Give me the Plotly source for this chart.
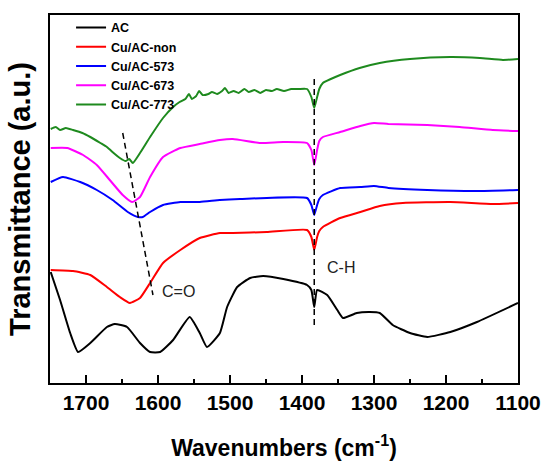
import plotly.graph_objects as go

# ---------------- data ----------------
ac_x = [1749, 1736, 1722, 1711, 1694, 1671, 1660, 1643, 1625, 1611, 1597, 1579, 1556,
        1542, 1532, 1514, 1504, 1490, 1472, 1454, 1426, 1393, 1387, 1383, 1379, 1365,
        1351, 1343, 1324, 1306, 1292, 1274, 1250, 1226, 1194, 1157, 1100]
ac_y = [111, 83, 50, 31, 40, 56, 59, 56, 40, 31, 31, 43, 66,
        50, 36, 50, 76, 96, 105, 107, 104, 98, 93, 76, 93, 88,
        73, 65, 70, 71, 70, 58, 50, 46, 51, 61, 80]

non_x = [1749, 1718, 1694, 1671, 1653, 1639, 1625, 1611, 1593, 1569, 1542, 1514, 1496,
         1449, 1393, 1387, 1383, 1379, 1376, 1371, 1347, 1319, 1292, 1260, 1194, 1135, 1100]
non_y = [113, 112, 108, 96, 86, 80, 85, 100, 120, 133, 145, 150, 150,
         151, 153, 146, 133, 146, 152, 156, 165, 171, 177, 180, 181, 179, 180]

c573_x = [1749, 1732, 1708, 1685, 1663, 1642, 1628, 1621, 1611, 1593, 1569, 1542, 1514,
          1486, 1393, 1387, 1383, 1379, 1376, 1371, 1347, 1319, 1300, 1280, 1226, 1157, 1100]
c573_y = [201, 206, 201, 193, 183, 171, 166, 166, 171, 178, 181, 181, 183,
          184, 185, 178, 168, 178, 184, 188, 195, 196, 197, 195, 193, 192, 193]

c673_x = [1749, 1726, 1704, 1685, 1667, 1649, 1636, 1625, 1611, 1593, 1569, 1542, 1514,
          1496, 1458, 1426, 1393, 1387, 1383, 1379, 1376, 1371, 1347, 1319, 1300, 1280,
          1226, 1181, 1135, 1100]
c673_y = [235, 235, 228, 218, 203, 188, 181, 186, 206, 226, 235, 239, 243,
          244, 240, 241, 240, 233, 218, 233, 242, 246, 251, 257, 260, 259,
          258, 256, 253, 252]

c773_x = [1749, 1742, 1736, 1728, 1718, 1705, 1694, 1680, 1671, 1660, 1653, 1645, 1640,
          1635, 1625, 1611, 1593, 1579, 1570, 1562, 1557, 1553, 1547, 1543, 1538, 1530,
          1525, 1518, 1511, 1507, 1502, 1495, 1488, 1480, 1474, 1466, 1458, 1450, 1442,
          1435, 1425, 1415, 1405, 1393, 1387, 1383, 1379, 1376, 1371, 1360, 1347, 1320,
          1292, 1250, 1194, 1153, 1121, 1100]
c773_y = [254, 256, 253, 255, 253, 250, 246, 240, 236, 229, 225, 222, 224,
          220, 230, 246, 265, 276, 281, 284, 289, 284, 287, 292, 288, 289,
          291, 289, 292, 295, 290, 292, 290, 294, 291, 293, 290, 293, 292,
          294, 292, 294, 294, 294, 286, 275, 286, 294, 300, 304, 308, 315,
          320, 324, 326, 325, 323, 324]

series_names = ["AC", "Cu/AC-non", "Cu/AC-573", "Cu/AC-673", "Cu/AC-773"]
series_x = [ac_x, non_x, c573_x, c673_x, c773_x]
series_y = [ac_y, non_y, c573_y, c673_y, c773_y]
series_colors = ["#000000", "#FF0000", "#0000FF", "#FF00FF", "#1E8A1E"]

# guide lines and labels
co_line_x = [1649, 1607]
co_line_y = [250, 88]
ch_line_x = [1383, 1383]
ch_line_y = [304, 55]
peak_labels = ["C=O", "C-H"]
peak_label_x = [1572, 1346]
peak_label_y = [92, 116]

x_ticks = [1700, 1600, 1500, 1400, 1300, 1200, 1100]

# ---------------- figure ----------------
FONT = "Liberation Sans, Arial, sans-serif"
fig = go.Figure()

for name, xs, ys, col in zip(series_names, series_x, series_y, series_colors):
    fig.add_trace(go.Scatter(x=xs, y=ys, mode="lines", name=name,
                             line=dict(color=col, width=2, shape="spline", smoothing=0.45)))

for lx, ly in [(co_line_x, co_line_y), (ch_line_x, ch_line_y)]:
    fig.add_trace(go.Scatter(x=lx, y=ly, mode="lines", showlegend=False, hoverinfo="skip",
                             line=dict(color="black", width=1.5, dash="6px,4px")))

for t, ax_, ay_ in zip(peak_labels, peak_label_x, peak_label_y):
    fig.add_annotation(x=ax_, y=ay_, text=t, showarrow=False,
                       font=dict(family=FONT, size=16, color="#222222"))

fig.update_layout(
    width=545, height=461,
    margin=dict(l=50, r=27, t=15, b=78),
    paper_bgcolor="white", plot_bgcolor="white",
    showlegend=True,
    legend=dict(x=0.045, y=1.006, xanchor="left", yanchor="top",
                bgcolor="rgba(0,0,0,0)",
                font=dict(family=FONT, size=12.5, color="black", weight="bold"),
                tracegroupgap=0, itemwidth=30),
    xaxis=dict(range=[1750, 1100], autorange=False, automargin=False,
               tickvals=x_ticks, ticks="inside", ticklen=8, tickwidth=1.5,
               tickcolor="black",
               minor=dict(dtick=50, ticks="inside", ticklen=4, tickwidth=1.5, tickcolor="black"),
               showline=True, linecolor="black", linewidth=2, mirror=True,
               showgrid=False, zeroline=False,
               tickfont=dict(family=FONT, size=21, color="black", weight="bold"),
               ticklabelstandoff=0,
               title=dict(text="Wavenumbers (cm<sup>-1</sup>)", standoff=32,
                          font=dict(family=FONT, size=23, color="black", weight="bold"))),
    yaxis=dict(range=[0, 368], autorange=False, automargin=False,
               showticklabels=False, ticks="",
               showline=True, linecolor="black", linewidth=2, mirror=True,
               showgrid=False, zeroline=False,
               title=dict(text="Transmittance (a.u.)", standoff=9,
                          font=dict(family=FONT, size=29, color="black", weight="bold"))),
)

fig.write_html("out.html")
